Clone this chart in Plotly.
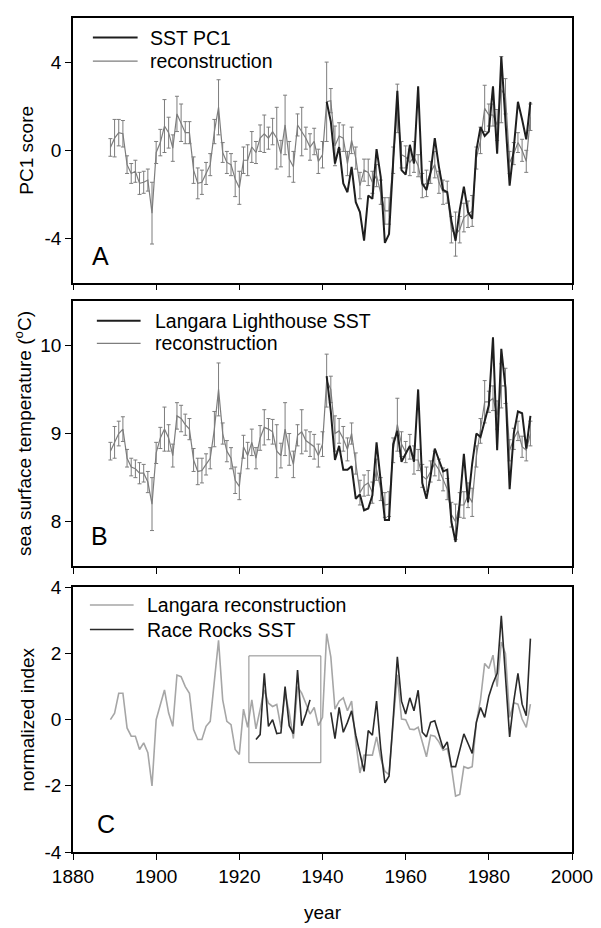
import plotly.graph_objects as go

# ---------------- data ----------------
years_rec = list(range(1889, 1991))

pc1_rec = [0.13, 0.55, 0.8, 0.75, -0.65, -1.05, -0.95, -1.5, -1.45, -1.35,
           -2.85, -0.1, 0.35, 1.1, 0.8, 0.1, 1.65, 1.25, 0.8, 0.8,
           -0.9, -1.5, -1.45, -1.05, -0.65, 0.85, 1.95, -0.1, -0.55, -0.65,
           -1.3, -1.7, -0.45, -0.45, 0.15, -0.1, 0.55, 0.75, 0.55, 0.85,
           0.55, -0.15, 1.15, -0.4, -0.75, 1.15, 0.85, 0.55, 0.15, 0.4,
           -0.5, -0.2, 2.2, 2.25, 0.2, 0.65, 0.55, -0.6, 0.45, -0.35,
           -1.6, -0.9, -1.0, -1.45, -1.15, -1.9, -2.75, -2.75, -0.45, 1.9,
           -0.2, -0.3, -0.55, -0.3, -0.7, -1.6, -1.5, -1.0, -0.65, -1.45,
           -1.9, -1.9, -3.6, -3.8, -3.6, -3.05, -2.9, -2.75, -0.35, 0.45,
           1.9, 1.6, 1.6, 1.15, 2.75, 2.45, -0.55, -0.15, 0.35, 0.0,
           -0.5, 1.5]

pc1_err = [0.4, 0.85, 0.6, 0.6, 0.4, 0.45, 0.5, 0.5, 0.5, 0.5,
           1.4, 0.5, 0.6, 1.2, 0.7, 0.6, 0.8, 0.85, 0.5, 0.5,
           0.6, 0.7, 0.55, 0.5, 0.5, 0.55, 1.25, 0.45, 0.5, 0.5,
           0.8, 0.75, 0.6, 0.7, 0.7, 0.5, 0.6, 0.85, 0.5, 0.6,
           1.4, 0.6, 1.35, 0.8, 0.7, 0.5, 1.1, 0.5, 0.6, 0.6,
           0.55, 0.6, 1.8, 0.55, 0.9, 0.6, 0.6, 0.55, 0.6, 0.5,
           0.6, 0.5, 0.6, 0.5, 0.5, 0.55, 0.6, 0.6, 0.6, 1.1,
           0.6, 0.5, 0.6, 0.7, 0.5, 0.55, 0.6, 0.5, 0.6, 0.5,
           0.55, 0.5, 0.6, 1.0, 0.6, 0.65, 0.6, 0.7, 0.5, 0.6,
           1.05, 0.5, 0.5, 0.7, 1.5, 0.8, 0.5, 0.5, 0.45, 0.5,
           0.5, 0.6]

years_obs = list(range(1941, 1991))
pc1_sst = [2.2, 1.3, -0.6, 0.15, -1.5, -1.9, -0.75, -2.35, -2.8, -4.1,
           -2.05, -2.2, 0.05, -1.2, -4.2, -3.8, -0.5, 2.7, -0.9, -1.1,
           0.25, -0.6, 2.9, -1.5, -1.8, -1.0, 0.55, -0.75, -1.8, -1.9,
           -3.2, -4.1, -2.7, -1.65, -2.8, -3.1, 0.0, 1.05, 0.65, 0.85,
           2.9, -0.15, 4.25, 1.2, -1.6, 0.1, 2.2, 1.4, 0.5, 2.2]

sst_rec = [8.8, 8.9, 9.0, 9.05, 8.72, 8.62, 8.6, 8.55, 8.55, 8.45,
           8.2, 8.78, 8.95, 9.05, 8.95, 8.75, 9.2, 9.17, 9.1, 9.05,
           8.7, 8.57, 8.58, 8.65, 8.72, 9.05, 9.5, 9.0, 8.8, 8.72,
           8.47, 8.4, 8.85, 8.75, 8.9, 8.72, 8.95, 9.07, 9.05, 9.02,
           8.8, 8.75, 9.05, 8.82, 8.65, 8.98, 9.02, 8.92, 8.88, 8.85,
           8.75, 8.88, 9.6, 9.5, 9.0, 9.03, 8.94, 8.82, 9.0, 8.66,
           8.33, 8.41, 8.44, 8.33, 8.59, 8.37, 8.19, 8.2, 8.81, 9.1,
           8.88, 8.79, 8.85, 8.7, 8.7, 8.52, 8.48, 8.57, 8.66, 8.59,
           8.48, 8.37, 8.08, 8.0, 8.19, 8.19, 8.3, 8.22, 8.74, 9.03,
           9.36, 9.36, 9.4, 9.21, 9.54, 9.54, 8.81, 8.94, 9.03, 8.85,
           8.81, 9.0]

sst_err = [0.1, 0.18, 0.14, 0.14, 0.1, 0.1, 0.1, 0.12, 0.1, 0.12,
           0.3, 0.12, 0.12, 0.25, 0.15, 0.13, 0.15, 0.15, 0.12, 0.12,
           0.13, 0.15, 0.14, 0.12, 0.12, 0.2, 0.3, 0.12, 0.12, 0.12,
           0.15, 0.15, 0.13, 0.15, 0.15, 0.12, 0.14, 0.2, 0.12, 0.14,
           0.3, 0.14, 0.3, 0.18, 0.15, 0.12, 0.25, 0.12, 0.14, 0.14,
           0.13, 0.14, 0.3, 0.15, 0.2, 0.14, 0.14, 0.13, 0.12, 0.12,
           0.14, 0.12, 0.14, 0.12, 0.12, 0.13, 0.14, 0.14, 0.14, 0.3,
           0.14, 0.12, 0.14, 0.16, 0.12, 0.13, 0.14, 0.12, 0.14, 0.12,
           0.13, 0.12, 0.14, 0.2, 0.14, 0.15, 0.14, 0.16, 0.12, 0.14,
           0.24, 0.12, 0.14, 0.16, 0.25, 0.2, 0.12, 0.12, 0.11, 0.12,
           0.12, 0.14]

langara_sst = [9.65, 9.25, 8.7, 8.86, 8.59, 8.59, 8.63, 8.26, 8.31, 8.13,
               8.15, 8.3, 8.9, 8.44, 8.02, 8.02, 8.88, 9.03, 8.68, 8.77,
               8.86, 8.68, 9.5, 8.44, 8.26, 8.52, 8.83, 8.7, 8.57, 8.59,
               8.0, 7.77, 8.22, 8.77, 8.22, 8.66, 9.0, 8.96, 9.14, 9.32,
               10.09, 8.81, 9.96, 9.52, 8.37, 9.0, 9.25, 9.23, 8.83, 9.2]

norm_rec = [0.0, 0.2, 0.8, 0.8, -0.25, -0.5, -0.5, -0.9, -0.7, -1.0,
            -2.0, 0.0, 0.45, 0.9, 0.2, -0.2, 1.35, 1.3, 1.0, 0.8,
            -0.3, -0.6, -0.6, -0.2, -0.05, 1.1, 2.4, 0.6, -0.05, -0.15,
            -0.9, -1.05, 0.32, -0.23, 0.6, -0.28, 0.3, 0.9, 0.5, 0.4,
            0.46, -0.23, 0.8, 0.22, -0.57, 1.0, 0.8, 0.46, 0.17, 0.37,
            -0.18, 0.07, 2.6, 1.9, 0.32, 0.56, 0.66, 0.27, 0.56, -0.67,
            -1.61, -1.07, -1.07, -1.07, -0.52, -1.17, -1.56, -1.66, -0.08, 1.36,
            0.02, 0.0, -0.28, -0.3, -0.23, -0.67, -1.12, -0.47, -0.5, -0.67,
            -0.92, -0.87, -1.42, -2.31, -2.26, -1.42, -1.47, -1.42, -0.08, 0.61,
            1.7, 1.55, 1.95, 1.0, 2.35, 2.0, 0.07, 0.51, 0.47, 0.02,
            -0.23, 0.47]

years_race = list(range(1924, 1991))
race_rocks = [-0.6, -0.45, 1.4, -0.2, 0.0, -0.42, -0.4, 1.0, -0.18, -0.42,
              1.5, -0.18, 0.17, 0.6, None, None, None, None, 0.22, -0.57,
              0.37, -0.38, -0.08, 0.27, -0.47, -0.97, -1.56, -0.33, -0.47, 0.56,
              -0.87, -1.91, -1.71, 0.02, 1.9, 0.56, 0.17, 0.66, 0.27, 0.89,
              -0.38, -0.52, -0.08, -0.03, -0.47, -0.87, -0.67, -1.42, -1.42, -0.9,
              -0.43, -0.72, -1.02, -0.08, 0.37, 0.07, 0.71, 1.1, 1.4, 3.14,
              1.3, -0.52, 0.56, 1.4, 0.47, 0.12, 2.45]

# highlighted window in panel C (years, index units)
box_years = [1922.3, 1939.6]
box_index = [-1.3, 1.93]

x_ticks = [1880, 1900, 1920, 1940, 1960, 1980, 2000]
x_tick_text = ["1880", "1900", "1920", "1940", "1960", "1980", "2000"]
a_ticks = [-4, 0, 4]
a_tick_text = ["-4", "0", "4"]
b_ticks = [8, 9, 10]
b_tick_text = ["8", "9", "10"]
c_ticks = [-4, -2, 0, 2, 4]
c_tick_text = ["-4", "-2", "0", "2", "4"]

# ---------------- styling ----------------
FONT = "Liberation Sans, Arial, sans-serif"
BLACK = "#1e1e1e"
GRAY = "#7d7d7d"
LIGHT = "#a6a6a6"
RR = "#2a2a2a"

W, H = 601, 928
ML, MR, MT, MB = 73, 26, 8, 69
PW = W - ML - MR
PH = H - MT - MB


def px(xp):
    return (xp - ML) / PW


def py(yp):
    return (H - MB - yp) / PH


fig = go.Figure()

# Panel A
fig.add_trace(go.Scatter(x=years_rec, y=pc1_rec, mode="markers",
                         marker=dict(size=1, color="rgba(0,0,0,0)"),
                         error_y=dict(type="data", array=pc1_err, color=GRAY,
                                      thickness=1, width=2),
                         showlegend=False, hoverinfo="skip",
                         xaxis="x", yaxis="y"))
fig.add_trace(go.Scatter(x=years_rec, y=pc1_rec, mode="lines", name="reconstruction",
                         line=dict(color=GRAY, width=1.2), showlegend=False,
                         xaxis="x", yaxis="y"))
fig.add_trace(go.Scatter(x=years_obs, y=pc1_sst, mode="lines", name="SST PC1",
                         line=dict(color=BLACK, width=2), showlegend=False,
                         xaxis="x", yaxis="y"))

# Panel B
fig.add_trace(go.Scatter(x=years_rec, y=sst_rec, mode="markers",
                         marker=dict(size=1, color="rgba(0,0,0,0)"),
                         error_y=dict(type="data", array=sst_err, color=GRAY,
                                      thickness=1, width=2),
                         showlegend=False, hoverinfo="skip",
                         xaxis="x2", yaxis="y2"))
fig.add_trace(go.Scatter(x=years_rec, y=sst_rec, mode="lines", name="reconstruction",
                         line=dict(color=GRAY, width=1.2), showlegend=False,
                         xaxis="x2", yaxis="y2"))
fig.add_trace(go.Scatter(x=years_obs, y=langara_sst, mode="lines",
                         name="Langara Lighthouse SST",
                         line=dict(color=BLACK, width=2), showlegend=False,
                         xaxis="x2", yaxis="y2"))

# Panel C
fig.add_trace(go.Scatter(x=years_rec, y=norm_rec, mode="lines",
                         name="Langara reconstruction",
                         line=dict(color=LIGHT, width=1.6), showlegend=False,
                         xaxis="x3", yaxis="y3"))
fig.add_trace(go.Scatter(x=years_race, y=race_rocks, mode="lines",
                         name="Race Rocks SST", connectgaps=False,
                         line=dict(color=RR, width=1.6), showlegend=False,
                         xaxis="x3", yaxis="y3"))

fig.add_shape(type="rect", xref="x3", yref="y3",
              x0=box_years[0], x1=box_years[1], y0=box_index[0], y1=box_index[1],
              line=dict(color="#8a8a8a", width=1), fillcolor="rgba(0,0,0,0)")

# ---------------- hand-placed legends (line sample + label) ----------------
legend_items = [
    # (x_line0, x_line1, x_text, y, colour, width, label)
    (93, 138, 148, 28, BLACK, 2, "SST PC1"),
    (93, 138, 148, 52, GRAY, 1.2, "reconstruction"),
    (97, 141, 153, 317, BLACK, 2, "Langara Lighthouse SST"),
    (97, 141, 153, 340, GRAY, 1.2, "reconstruction"),
    (90, 134, 145, 607, LIGHT, 1.6, "Langara reconstruction"),
    (90, 134, 145, 632, RR, 1.6, "Race Rocks SST"),
]
for x0, x1, xt, yy, col, lw, label in legend_items:
    fig.add_shape(type="line", xref="paper", yref="paper",
                  x0=px(x0), x1=px(x1), y0=py(yy), y1=py(yy),
                  line=dict(color=col, width=lw))
    fig.add_annotation(text=label, x=px(xt), y=py(yy), xref="paper", yref="paper",
                       xanchor="left", yanchor="middle", showarrow=False,
                       font=dict(family=FONT, size=19.5, color="black"))

dom_a = [py(278), py(8)]
dom_b = [py(567), py(297)]
dom_c = [py(859), py(589)]

axis_common = dict(showline=True, mirror=True, linecolor="black", linewidth=1.5,
                   ticks="outside", ticklen=6, tickwidth=1.2, tickcolor="black",
                   showgrid=False, zeroline=False,
                   tickfont=dict(family=FONT, size=19, color="black"))

xcommon = dict(axis_common, range=[1880, 2000], tickvals=x_ticks, ticktext=x_tick_text)

fig.update_layout(
    width=W, height=H,
    margin=dict(l=ML, r=MR, t=MT, b=MB),
    paper_bgcolor="white", plot_bgcolor="white",
    font=dict(family=FONT, color="black"),
    showlegend=False,
    xaxis=dict(xcommon, domain=[0, 1], anchor="y", showticklabels=False),
    xaxis2=dict(xcommon, domain=[0, 1], anchor="y2", showticklabels=False),
    xaxis3=dict(xcommon, domain=[0, 1], anchor="y3",
                title=dict(text="year", font=dict(family=FONT, size=19), standoff=20)),
    yaxis=dict(axis_common, domain=dom_a, anchor="x", range=[-6, 6],
               tickvals=a_ticks, ticktext=a_tick_text,
               title=dict(text="PC1 score", font=dict(family=FONT, size=19), standoff=6)),
    yaxis2=dict(axis_common, domain=dom_b, anchor="x2", range=[7.5, 10.5],
                tickvals=b_ticks, ticktext=b_tick_text,
                title=dict(text="sea surface temperature (<sup>o</sup>C)",
                           font=dict(family=FONT, size=19), standoff=4)),
    yaxis3=dict(axis_common, domain=dom_c, anchor="x3", range=[-4, 4],
                tickvals=c_ticks, ticktext=c_tick_text,
                title=dict(text="normalized index", font=dict(family=FONT, size=19),
                           standoff=5)),
)

for label, xx, yy in [("A", 101, 251), ("B", 100, 537), ("C", 106, 830)]:
    fig.add_annotation(text=label, x=px(xx), y=py(yy), xref="paper", yref="paper",
                       xanchor="center", yanchor="middle", showarrow=False,
                       font=dict(family=FONT, size=25, color="black"))

fig.write_html("out.html")
